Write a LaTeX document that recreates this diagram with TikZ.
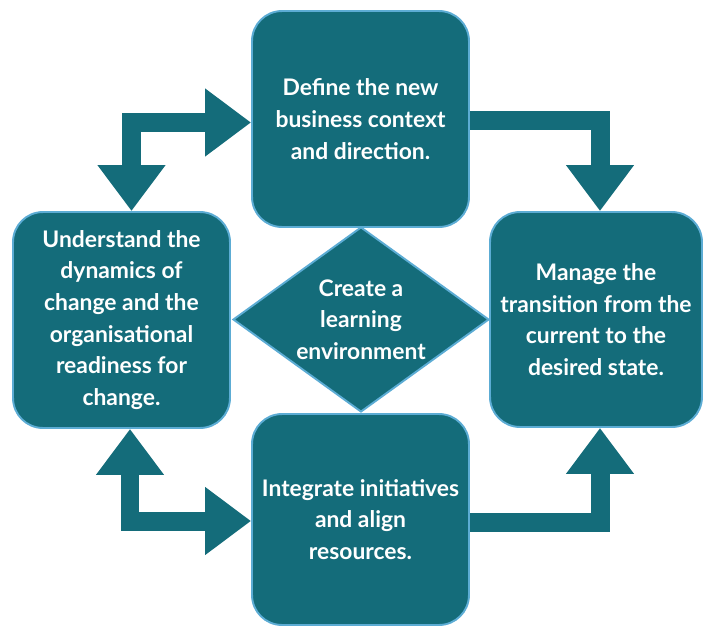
\documentclass[tikz,border=0pt]{standalone}
\usepackage{fontspec}
\setmainfont{Lato}
\usetikzlibrary{shapes.geometric,arrows.meta,calc}
\definecolor{cycleTeal}{RGB}{20,108,122}
\definecolor{cycleEdge}{RGB}{92,172,212}

\begin{document}
\begin{tikzpicture}[x=0.02cm,y=-0.02cm,
    stagebox/.style={draw=cycleEdge, line width=1.1pt, fill=cycleTeal, rounded corners=0.6cm,
        text=white, align=center, inner sep=0pt, font=\fontsize{13}{18}\selectfont\bfseries},
    fatarrow/.style={draw=cycleTeal, line width=0.38cm},
    >={Triangle[width=1.3cm,length=0.92cm]}]
    \useasboundingbox (0,0) rectangle (704,626);

    % Stages of the cycle
    \node[stagebox, minimum width=4.34cm, minimum height=4.32cm] (define) at (360.5,119)
        {Define the new\\business context\\and direction.};
    \node[stagebox, minimum width=4.34cm, minimum height=4.32cm] (understand) at (121.5,320)
        {Understand the\\dynamics of\\change and the\\organisational\\readiness for\\change.};
    \node[stagebox, minimum width=4.24cm, minimum height=4.3cm] (manage) at (596,319.5)
        {Manage the\\transition from the\\current to the\\desired state.};
    \node[stagebox, minimum width=4.34cm, minimum height=4.22cm] (integrate) at (360.5,519.5)
        {Integrate initiatives\\and align\\resources.};

    % Centre
    \node[stagebox, diamond, aspect=1.38, rounded corners=0pt, minimum width=5.12cm, minimum height=3.7cm] (learn) at (361,319.5)
        {Create a\\learning\\environment};

    % Arrows
    \draw[fatarrow, <->] ($(understand.north)+(10,0)$) |- ($(define.west)+(0,3.5)$);
    \draw[fatarrow, ->] ($(define.east)+(0,1)$) -| ($(manage.north)+(4,0)$);
    \draw[fatarrow, <->] ($(understand.south)+(8.5,0)$) |- ($(integrate.west)+(0,1.5)$);
    \draw[fatarrow, ->] ($(integrate.east)+(0,2.5)$) -| ($(manage.south)+(4,0)$);
\end{tikzpicture}
\end{document}
